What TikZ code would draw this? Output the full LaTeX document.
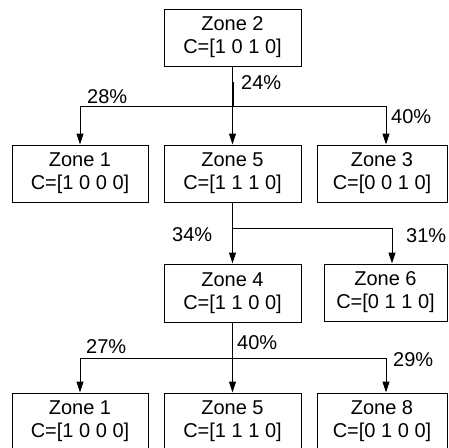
\documentclass[tikz,border=0pt]{standalone}
\usepackage{fontspec}
\setmainfont{Liberation Sans}
\usetikzlibrary{arrows.meta}
\begin{document}
\begin{tikzpicture}[x=1pt,y=-1pt,
  zone/.style={draw=black, line width=1pt, inner sep=0pt, align=center,
    minimum height=57pt, font=\fontsize{20}{23}\selectfont},
  pct/.style={anchor=west, inner sep=0pt, font=\fontsize{20}{23}\selectfont},
  wire/.style={line width=1pt, draw=black},
  arr/.style={wire, -{Triangle[width=7pt,length=11pt]}}]
\clip (0,0) rectangle (449,447);
\fill[white] (0,0) rectangle (449,447);
% boxes
\node[zone, minimum width=137pt] (z2) at (232.5,37.5) {Zone 2\\C=[1 0 1 0]};
\node[zone, minimum width=136pt] (z1a) at (80,173.5) {Zone 1\\C=[1 0 0 0]};
\node[zone, minimum width=137pt] (z5a) at (232.5,173.5) {Zone 5\\C=[1 1 1 0]};
\node[zone, minimum width=130pt] (z3) at (382,173.5) {Zone 3\\C=[0 0 1 0]};
\node[zone, minimum width=137pt, minimum height=58pt] (z4) at (232.5,293) {Zone 4\\C=[1 1 0 0]};
\node[zone, minimum width=123pt, minimum height=57pt] (z6) at (385.5,292.5) {Zone 6\\C=[0 1 1 0]};
\node[zone, minimum width=136pt] (z1b) at (80,421.5) {Zone 1\\C=[1 0 0 0]};
\node[zone, minimum width=137pt] (z5b) at (232.5,421.5) {Zone 5\\C=[1 1 1 0]};
\node[zone, minimum width=130pt] (z8) at (382,421.5) {Zone 8\\C=[0 1 0 0]};
% junctions
\coordinate (t1) at (232.5,82);
\coordinate (j1) at (232.5,106);
\coordinate (l1) at (80,106);
\coordinate (r1) at (386,106);
\coordinate (j2) at (232.5,228);
\coordinate (r2) at (392,228);
\coordinate (j3) at (232.5,358);
\coordinate (l3) at (80,358);
\coordinate (r3) at (386,358);
% level 1
\draw[wire] (z2.south) -- (j1);
\draw[line width=2pt] (t1) -- (j1);
\draw[wire] (l1) -- (r1);
\draw[arr] (l1) -- (z1a.north);
\draw[arr] (j1) -- (z5a.north);
\draw[arr] (r1) -- (r1 |- z3.north);
% level 2
\draw[wire] (z5a.south) -- (j2) -- (r2);
\draw[arr] (j2) -- (z4.north);
\draw[arr] (r2) -- (r2 |- z6.north);
% level 3
\draw[wire] (z4.south) -- (j3);
\draw[wire] (l3) -- (r3);
\draw[arr] (l3) -- (z1b.north);
\draw[arr] (j3) -- (z5b.north);
\draw[arr] (r3) -- (r3 |- z8.north);
% labels
\node[pct] (p24) at (241,83) {24\%};
\node[pct] (p28) at (87,97) {28\%};
\node[pct] (p40a) at (391,117) {40\%};
\node[pct] (p34) at (172,235) {34\%};
\node[pct] (p31) at (406,236) {31\%};
\node[pct] (p27) at (86,347) {27\%};
\node[pct] (p40b) at (237,343) {40\%};
\node[pct] (p29) at (393,360) {29\%};
\end{tikzpicture}
\end{document}
